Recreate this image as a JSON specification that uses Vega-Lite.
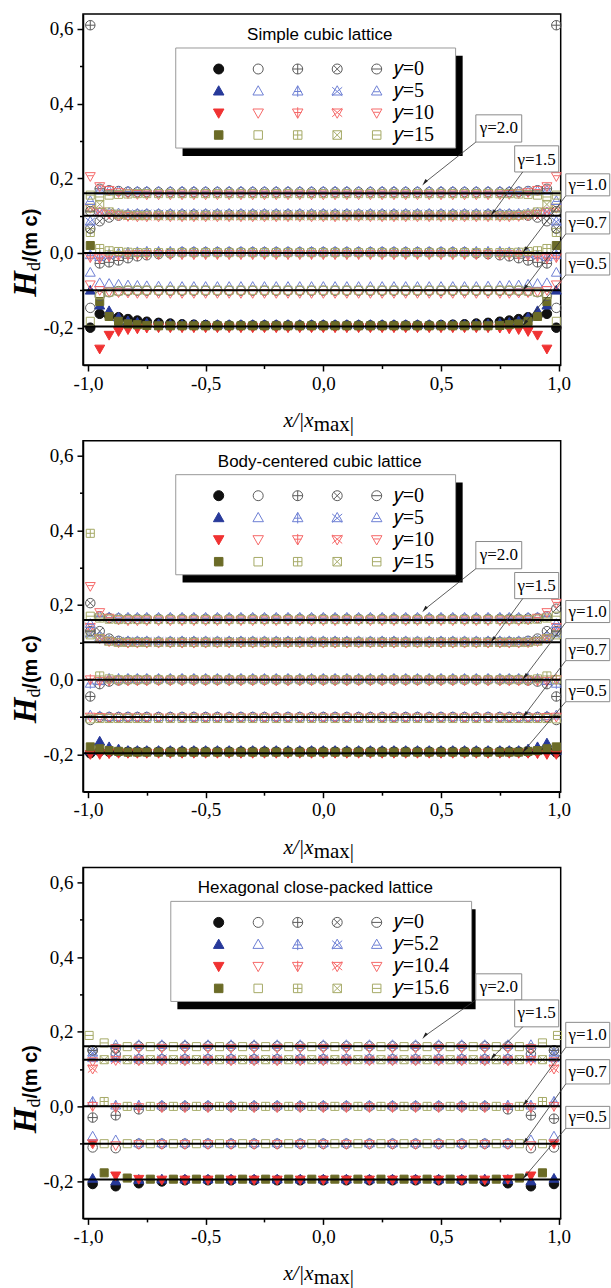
{
"$schema":"https://vega.github.io/schema/vega-lite/v6.json",
"padding":{"left":8,"top":13,"right":0,"bottom":0},
"background":"white",
"spacing":75.7,
"bounds":"flush",
"config":{"view":{"stroke":"black","strokeWidth":1.5},
 "axis":{"grid":false,"labelFont":"Liberation Serif","labelFontSize":19,"labelColor":"black","tickColor":"black","tickWidth":1.5,"domainColor":"black","domainWidth":1.5,"labelOverlap":false,"labelFlush":false},
 "legend":{"orient":"none","legendX":125.7,"legendY":45,"columns":5,"labelFont":"Liberation Serif","labelFontSize":20,"labelColor":"black","symbolSize":100,"symbolStrokeWidth":1,"columnPadding":12.5,"rowPadding":2,"labelOffset":7,"padding":0,"symbolLimit":0,"labelLimit":0},
 "range":{"category":["#111111","#27399a","#f03232","#6b6b27","#5a5a5a","#6d7fd4","#f56868","#a6aa66","#5a5a5a","#6d7fd4","#f56868","#a6aa66","#5a5a5a","#6d7fd4","#f56868","#a6aa66","#5a5a5a","#6d7fd4","#f56868","#a6aa66"],
  "symbol":["M-1,0A1,1,0,1,0,1,0A1,1,0,1,0,-1,0Z","M0,-1.05L1.05,0.8L-1.05,0.8Z","M0,1.05L1.05,-0.8L-1.05,-0.8Z","M-0.85,-0.85L0.85,-0.85L0.85,0.85L-0.85,0.85Z",
   "M-1,0A1,1,0,1,0,1,0A1,1,0,1,0,-1,0Z","M0,-1.05L1.05,0.8L-1.05,0.8Z","M0,1.05L1.05,-0.8L-1.05,-0.8Z","M-0.85,-0.85L0.85,-0.85L0.85,0.85L-0.85,0.85Z",
   "M-1,0A1,1,0,1,0,1,0A1,1,0,1,0,-1,0ZM-1,0L1,0M0,-1L0,1","M0,-1.05L1.05,0.8L-1.05,0.8ZM0,-1.05L0,1.15M-0.75,0.1L0.75,0.1","M0,1.05L1.05,-0.8L-1.05,-0.8ZM0,1.05L0,-1.15M-0.75,-0.1L0.75,-0.1","M-0.85,-0.85L0.85,-0.85L0.85,0.85L-0.85,0.85ZM-0.85,0L0.85,0M0,-0.85L0,0.85",
   "M-1,0A1,1,0,1,0,1,0A1,1,0,1,0,-1,0ZM-0.7,-0.7L0.7,0.7M-0.7,0.7L0.7,-0.7","M0,-1.05L1.05,0.8L-1.05,0.8ZM-1,-0.75L1,0.95M1,-0.75L-1,0.95","M0,1.05L1.05,-0.8L-1.05,-0.8ZM-1,0.75L1,-0.95M1,0.75L-1,-0.95","M-0.85,-0.85L0.85,-0.85L0.85,0.85L-0.85,0.85ZM-0.85,-0.85L0.85,0.85M-0.85,0.85L0.85,-0.85",
   "M-1,0A1,1,0,1,0,1,0A1,1,0,1,0,-1,0ZM-1,0L1,0","M0,-1.05L1.05,0.8L-1.05,0.8ZM-0.6,0.15L0.6,0.15","M0,1.05L1.05,-0.8L-1.05,-0.8ZM-0.6,-0.15L0.6,-0.15","M-0.85,-0.85L0.85,-0.85L0.85,0.85L-0.85,0.85ZM-0.85,0L0.85,0"]}
},
"resolve":{"scale":{"fill":"independent","stroke":"independent","shape":"independent"},"legend":{"fill":"independent","stroke":"independent","shape":"independent"}},
"datasets":{
"ann":[
{"t":"γ=2.0","bx":0.648,"bx2":0.843,"by":0.37,"by2":0.297,"tx":0.746,"ty":0.334,"ax":0.648,"ay":0.297,"ex":0.43,"ey":0.188},
{"t":"γ=1.5","bx":0.813,"bx2":1.0,"by":0.287,"by2":0.217,"tx":0.906,"ty":0.25,"ax":0.847,"ay":0.217,"ex":0.72,"ey":0.107},
{"t":"γ=1.0","bx":1.03,"bx2":1.217,"by":0.212,"by2":0.153,"tx":1.123,"ty":0.182,"ax":1.03,"ay":0.153,"ex":0.856,"ey":0.008},
{"t":"γ=0.7","bx":1.03,"bx2":1.217,"by":0.11,"by2":0.051,"tx":1.123,"ty":0.08,"ax":1.03,"ay":0.051,"ex":0.856,"ey":-0.094},
{"t":"γ=0.5","bx":1.03,"bx2":1.217,"by":0.0,"by2":-0.059,"tx":1.123,"ty":-0.029,"ax":1.03,"ay":-0.059,"ex":0.856,"ey":-0.188}
],
"ann_hcp":[
{"t":"γ=2.0","bx":0.648,"bx2":0.843,"by":0.355,"by2":0.285,"tx":0.746,"ty":0.32,"ax":0.648,"ay":0.285,"ex":0.43,"ey":0.188},
{"t":"γ=1.5","bx":0.813,"bx2":1.0,"by":0.285,"by2":0.213,"tx":0.906,"ty":0.249,"ax":0.847,"ay":0.213,"ex":0.72,"ey":0.132},
{"t":"γ=1.0","bx":1.03,"bx2":1.217,"by":0.225,"by2":0.158,"tx":1.123,"ty":0.192,"ax":1.03,"ay":0.158,"ex":0.856,"ey":0.008},
{"t":"γ=0.7","bx":1.03,"bx2":1.217,"by":0.125,"by2":0.06,"tx":1.123,"ty":0.093,"ax":1.03,"ay":0.06,"ex":0.856,"ey":-0.094},
{"t":"γ=0.5","bx":1.03,"bx2":1.217,"by":0.0,"by2":-0.059,"tx":1.123,"ty":-0.029,"ax":1.03,"ay":-0.059,"ex":0.856,"ey":-0.188}
],
"lines_sc":[{"h":0.16},{"h":0.1},{"h":0},{"h":-0.1},{"h":-0.197}],
"lines_bcc":[{"h":0.16},{"h":0.1},{"h":0},{"h":-0.1},{"h":-0.197}],
"lines_hcp":[{"h":0.161},{"h":0.125},{"h":0},{"h":-0.1},{"h":-0.196}],
"sc":[
{"x":-0.99,"a":-0.2,"b":-0.1,"d":0.02,"e":-0.147,"f":-0.052,"g":-0.085,"h":-0.183,"i":0.61,"j":-0.005,"k":-0.012,"l":0.055,"m":0.065,"n":0.085,"o":0.12,"p":0.12,"q":0.112,"r":0.14,"s":0.205,"t":0.155},
{"x":-0.95,"a":-0.163,"b":-0.14,"c":-0.257,"d":-0.13,"e":-0.115,"f":-0.08,"g":-0.1,"h":-0.112,"i":-0.028,"j":-0.01,"k":-0.015,"l":0.012,"m":0.085,"n":0.11,"o":0.11,"p":0.13,"q":0.172,"r":0.168,"s":0.178,"t":0.15},
{"x":-0.91,"a":-0.168,"b":-0.155,"c":-0.22,"d":-0.17,"e":-0.105,"f":-0.082,"g":-0.104,"h":-0.105,"i":-0.025,"j":-0.004,"k":-0.01,"l":0.006,"m":0.095,"n":0.108,"o":0.104,"p":0.11,"q":0.168,"r":0.167,"s":0.168,"t":0.155},
{"x":-0.87,"a":-0.172,"b":-0.172,"c":-0.21,"d":-0.183,"e":-0.102,"f":-0.084,"g":-0.106,"h":-0.102,"i":-0.02,"j":0,"k":-0.007,"l":0.004,"m":0.1,"n":0.107,"o":0.1,"p":0.104,"q":0.166,"r":0.166,"s":0.162,"t":0.157},
{"x":-0.83,"a":-0.177,"b":-0.182,"c":-0.205,"d":-0.19,"e":-0.101,"f":-0.086,"g":-0.107,"h":-0.1,"i":-0.014,"j":0.002,"k":-0.005,"l":0.002,"m":0.102,"n":0.106,"o":0.098,"p":0.101,"q":0.164,"r":0.166,"s":0.159,"t":0.158},
{"x":-0.79,"a":-0.181,"b":-0.186,"c":-0.203,"d":-0.192,"e":-0.101,"f":-0.087,"g":-0.108,"h":-0.1,"i":-0.009,"j":0.003,"k":-0.004,"l":0.001,"m":0.103,"n":0.106,"o":0.097,"p":0.1,"q":0.163,"r":0.166,"s":0.157,"t":0.159},
{"x":-0.75,"a":-0.184,"b":-0.188,"c":-0.201,"d":-0.194,"e":-0.101,"f":-0.088,"g":-0.108,"h":-0.1,"i":-0.006,"j":0.004,"k":-0.004,"l":0.001,"m":0.103,"n":0.106,"o":0.097,"p":0.1,"q":0.163,"r":0.166,"s":0.156,"t":0.159},
{"x":-0.7,"a":-0.187,"b":-0.19,"c":-0.2,"d":-0.195,"e":-0.101,"f":-0.089,"g":-0.108,"h":-0.1,"i":-0.003,"j":0.004,"k":-0.004,"l":0.001,"m":0.103,"n":0.106,"o":0.097,"p":0.1,"q":0.163,"r":0.166,"s":0.156,"t":0.159},
{"x":-0.65,"a":-0.189,"b":-0.191,"c":-0.2,"d":-0.195,"e":-0.101,"f":-0.09,"g":-0.108,"h":-0.1,"i":-0.001,"j":0.004,"k":-0.004,"l":0.001,"m":0.103,"n":0.106,"o":0.097,"p":0.1,"q":0.163,"r":0.166,"s":0.156,"t":0.159},
{"x":-0.6,"a":-0.191,"b":-0.192,"c":-0.2,"d":-0.195,"e":-0.101,"f":-0.09,"g":-0.108,"h":-0.1,"i":0.002,"j":0.004,"k":-0.004,"l":0.001,"m":0.103,"n":0.106,"o":0.097,"p":0.1,"q":0.163,"r":0.166,"s":0.156,"t":0.159},
{"x":-0.55,"a":-0.192,"b":-0.192,"c":-0.2,"d":-0.195,"e":-0.101,"f":-0.09,"g":-0.108,"h":-0.1,"i":0.002,"j":0.004,"k":-0.004,"l":0.001,"m":0.103,"n":0.106,"o":0.097,"p":0.1,"q":0.163,"r":0.166,"s":0.156,"t":0.159},
{"x":-0.5,"a":-0.193,"b":-0.192,"c":-0.2,"d":-0.195,"e":-0.101,"f":-0.09,"g":-0.108,"h":-0.1,"i":0.002,"j":0.004,"k":-0.004,"l":0.001,"m":0.103,"n":0.106,"o":0.097,"p":0.1,"q":0.163,"r":0.166,"s":0.156,"t":0.159},
{"x":-0.45,"a":-0.194,"b":-0.192,"c":-0.2,"d":-0.195,"e":-0.101,"f":-0.09,"g":-0.108,"h":-0.1,"i":0.002,"j":0.004,"k":-0.004,"l":0.001,"m":0.103,"n":0.106,"o":0.097,"p":0.1,"q":0.163,"r":0.166,"s":0.156,"t":0.159},
{"x":-0.4,"a":-0.194,"b":-0.192,"c":-0.2,"d":-0.195,"e":-0.101,"f":-0.09,"g":-0.108,"h":-0.1,"i":0.002,"j":0.004,"k":-0.004,"l":0.001,"m":0.103,"n":0.106,"o":0.097,"p":0.1,"q":0.163,"r":0.166,"s":0.156,"t":0.159},
{"x":-0.35,"a":-0.194,"b":-0.192,"c":-0.2,"d":-0.195,"e":-0.101,"f":-0.09,"g":-0.108,"h":-0.1,"i":0.002,"j":0.004,"k":-0.004,"l":0.001,"m":0.103,"n":0.106,"o":0.097,"p":0.1,"q":0.163,"r":0.166,"s":0.156,"t":0.159},
{"x":-0.3,"a":-0.194,"b":-0.192,"c":-0.2,"d":-0.195,"e":-0.101,"f":-0.09,"g":-0.108,"h":-0.1,"i":0.002,"j":0.004,"k":-0.004,"l":0.001,"m":0.103,"n":0.106,"o":0.097,"p":0.1,"q":0.163,"r":0.166,"s":0.156,"t":0.159},
{"x":-0.25,"a":-0.194,"b":-0.192,"c":-0.2,"d":-0.195,"e":-0.101,"f":-0.09,"g":-0.108,"h":-0.1,"i":0.002,"j":0.004,"k":-0.004,"l":0.001,"m":0.103,"n":0.106,"o":0.097,"p":0.1,"q":0.163,"r":0.166,"s":0.156,"t":0.159},
{"x":-0.2,"a":-0.194,"b":-0.192,"c":-0.2,"d":-0.195,"e":-0.101,"f":-0.09,"g":-0.108,"h":-0.1,"i":0.002,"j":0.004,"k":-0.004,"l":0.001,"m":0.103,"n":0.106,"o":0.097,"p":0.1,"q":0.163,"r":0.166,"s":0.156,"t":0.159},
{"x":-0.15,"a":-0.194,"b":-0.192,"c":-0.2,"d":-0.195,"e":-0.101,"f":-0.09,"g":-0.108,"h":-0.1,"i":0.002,"j":0.004,"k":-0.004,"l":0.001,"m":0.103,"n":0.106,"o":0.097,"p":0.1,"q":0.163,"r":0.166,"s":0.156,"t":0.159},
{"x":-0.1,"a":-0.194,"b":-0.192,"c":-0.2,"d":-0.195,"e":-0.101,"f":-0.09,"g":-0.108,"h":-0.1,"i":0.002,"j":0.004,"k":-0.004,"l":0.001,"m":0.103,"n":0.106,"o":0.097,"p":0.1,"q":0.163,"r":0.166,"s":0.156,"t":0.159},
{"x":-0.05,"a":-0.194,"b":-0.192,"c":-0.2,"d":-0.195,"e":-0.101,"f":-0.09,"g":-0.108,"h":-0.1,"i":0.002,"j":0.004,"k":-0.004,"l":0.001,"m":0.103,"n":0.106,"o":0.097,"p":0.1,"q":0.163,"r":0.166,"s":0.156,"t":0.159},
{"x":0,"a":-0.194,"b":-0.192,"c":-0.2,"d":-0.195,"e":-0.101,"f":-0.09,"g":-0.108,"h":-0.1,"i":0.002,"j":0.004,"k":-0.004,"l":0.001,"m":0.103,"n":0.106,"o":0.097,"p":0.1,"q":0.163,"r":0.166,"s":0.156,"t":0.159},
{"x":0.05,"a":-0.194,"b":-0.192,"c":-0.2,"d":-0.195,"e":-0.101,"f":-0.09,"g":-0.108,"h":-0.1,"i":0.002,"j":0.004,"k":-0.004,"l":0.001,"m":0.103,"n":0.106,"o":0.097,"p":0.1,"q":0.163,"r":0.166,"s":0.156,"t":0.159},
{"x":0.1,"a":-0.194,"b":-0.192,"c":-0.2,"d":-0.195,"e":-0.101,"f":-0.09,"g":-0.108,"h":-0.1,"i":0.002,"j":0.004,"k":-0.004,"l":0.001,"m":0.103,"n":0.106,"o":0.097,"p":0.1,"q":0.163,"r":0.166,"s":0.156,"t":0.159},
{"x":0.15,"a":-0.194,"b":-0.192,"c":-0.2,"d":-0.195,"e":-0.101,"f":-0.09,"g":-0.108,"h":-0.1,"i":0.002,"j":0.004,"k":-0.004,"l":0.001,"m":0.103,"n":0.106,"o":0.097,"p":0.1,"q":0.163,"r":0.166,"s":0.156,"t":0.159},
{"x":0.2,"a":-0.194,"b":-0.192,"c":-0.2,"d":-0.195,"e":-0.101,"f":-0.09,"g":-0.108,"h":-0.1,"i":0.002,"j":0.004,"k":-0.004,"l":0.001,"m":0.103,"n":0.106,"o":0.097,"p":0.1,"q":0.163,"r":0.166,"s":0.156,"t":0.159},
{"x":0.25,"a":-0.194,"b":-0.192,"c":-0.2,"d":-0.195,"e":-0.101,"f":-0.09,"g":-0.108,"h":-0.1,"i":0.002,"j":0.004,"k":-0.004,"l":0.001,"m":0.103,"n":0.106,"o":0.097,"p":0.1,"q":0.163,"r":0.166,"s":0.156,"t":0.159},
{"x":0.3,"a":-0.194,"b":-0.192,"c":-0.2,"d":-0.195,"e":-0.101,"f":-0.09,"g":-0.108,"h":-0.1,"i":0.002,"j":0.004,"k":-0.004,"l":0.001,"m":0.103,"n":0.106,"o":0.097,"p":0.1,"q":0.163,"r":0.166,"s":0.156,"t":0.159},
{"x":0.35,"a":-0.194,"b":-0.192,"c":-0.2,"d":-0.195,"e":-0.101,"f":-0.09,"g":-0.108,"h":-0.1,"i":0.002,"j":0.004,"k":-0.004,"l":0.001,"m":0.103,"n":0.106,"o":0.097,"p":0.1,"q":0.163,"r":0.166,"s":0.156,"t":0.159},
{"x":0.4,"a":-0.194,"b":-0.192,"c":-0.2,"d":-0.195,"e":-0.101,"f":-0.09,"g":-0.108,"h":-0.1,"i":0.002,"j":0.004,"k":-0.004,"l":0.001,"m":0.103,"n":0.106,"o":0.097,"p":0.1,"q":0.163,"r":0.166,"s":0.156,"t":0.159},
{"x":0.45,"a":-0.194,"b":-0.192,"c":-0.2,"d":-0.195,"e":-0.101,"f":-0.09,"g":-0.108,"h":-0.1,"i":0.002,"j":0.004,"k":-0.004,"l":0.001,"m":0.103,"n":0.106,"o":0.097,"p":0.1,"q":0.163,"r":0.166,"s":0.156,"t":0.159},
{"x":0.5,"a":-0.193,"b":-0.192,"c":-0.2,"d":-0.195,"e":-0.101,"f":-0.09,"g":-0.108,"h":-0.1,"i":0.002,"j":0.004,"k":-0.004,"l":0.001,"m":0.103,"n":0.106,"o":0.097,"p":0.1,"q":0.163,"r":0.166,"s":0.156,"t":0.159},
{"x":0.55,"a":-0.192,"b":-0.192,"c":-0.2,"d":-0.195,"e":-0.101,"f":-0.09,"g":-0.108,"h":-0.1,"i":0.002,"j":0.004,"k":-0.004,"l":0.001,"m":0.103,"n":0.106,"o":0.097,"p":0.1,"q":0.163,"r":0.166,"s":0.156,"t":0.159},
{"x":0.6,"a":-0.191,"b":-0.192,"c":-0.2,"d":-0.195,"e":-0.101,"f":-0.09,"g":-0.108,"h":-0.1,"i":0.002,"j":0.004,"k":-0.004,"l":0.001,"m":0.103,"n":0.106,"o":0.097,"p":0.1,"q":0.163,"r":0.166,"s":0.156,"t":0.159},
{"x":0.65,"a":-0.189,"b":-0.191,"c":-0.2,"d":-0.195,"e":-0.101,"f":-0.09,"g":-0.108,"h":-0.1,"i":-0.001,"j":0.004,"k":-0.004,"l":0.001,"m":0.103,"n":0.106,"o":0.097,"p":0.1,"q":0.163,"r":0.166,"s":0.156,"t":0.159},
{"x":0.7,"a":-0.187,"b":-0.19,"c":-0.2,"d":-0.195,"e":-0.101,"f":-0.089,"g":-0.108,"h":-0.1,"i":-0.003,"j":0.004,"k":-0.004,"l":0.001,"m":0.103,"n":0.106,"o":0.097,"p":0.1,"q":0.163,"r":0.166,"s":0.156,"t":0.159},
{"x":0.75,"a":-0.184,"b":-0.188,"c":-0.201,"d":-0.194,"e":-0.101,"f":-0.088,"g":-0.108,"h":-0.1,"i":-0.006,"j":0.004,"k":-0.004,"l":0.001,"m":0.103,"n":0.106,"o":0.097,"p":0.1,"q":0.163,"r":0.166,"s":0.156,"t":0.159},
{"x":0.79,"a":-0.181,"b":-0.186,"c":-0.203,"d":-0.192,"e":-0.101,"f":-0.087,"g":-0.108,"h":-0.1,"i":-0.009,"j":0.003,"k":-0.004,"l":0.001,"m":0.103,"n":0.106,"o":0.097,"p":0.1,"q":0.163,"r":0.166,"s":0.157,"t":0.159},
{"x":0.83,"a":-0.177,"b":-0.182,"c":-0.205,"d":-0.19,"e":-0.101,"f":-0.086,"g":-0.107,"h":-0.1,"i":-0.014,"j":0.002,"k":-0.005,"l":0.002,"m":0.102,"n":0.106,"o":0.098,"p":0.101,"q":0.164,"r":0.166,"s":0.159,"t":0.158},
{"x":0.87,"a":-0.172,"b":-0.172,"c":-0.21,"d":-0.183,"e":-0.102,"f":-0.084,"g":-0.106,"h":-0.102,"i":-0.02,"j":0,"k":-0.007,"l":0.004,"m":0.1,"n":0.107,"o":0.1,"p":0.104,"q":0.166,"r":0.166,"s":0.162,"t":0.157},
{"x":0.91,"a":-0.168,"b":-0.155,"c":-0.22,"d":-0.17,"e":-0.105,"f":-0.082,"g":-0.104,"h":-0.105,"i":-0.025,"j":-0.004,"k":-0.01,"l":0.006,"m":0.095,"n":0.108,"o":0.104,"p":0.11,"q":0.168,"r":0.167,"s":0.168,"t":0.155},
{"x":0.95,"a":-0.163,"b":-0.14,"c":-0.257,"d":-0.13,"e":-0.115,"f":-0.08,"g":-0.1,"h":-0.112,"i":-0.028,"j":-0.01,"k":-0.015,"l":0.012,"m":0.085,"n":0.11,"o":0.11,"p":0.13,"q":0.172,"r":0.168,"s":0.178,"t":0.15},
{"x":0.99,"a":-0.2,"b":-0.1,"d":0.02,"e":-0.147,"f":-0.052,"g":-0.085,"h":-0.183,"i":0.61,"j":-0.005,"k":-0.012,"l":0.055,"m":0.065,"n":0.085,"o":0.12,"p":0.12,"q":0.112,"r":0.14,"s":0.205,"t":0.155}
],
"bcc":[
{"x":-0.99,"a":-0.197,"b":-0.19,"c":-0.2,"d":-0.18,"e":-0.108,"f":-0.095,"g":-0.1,"h":-0.105,"i":-0.045,"j":-0.01,"k":0,"l":0.392,"m":0.205,"n":0.125,"o":0.14,"p":0.12,"q":0.13,"r":0.15,"s":0.25,"t":0.17},
{"x":-0.95,"a":-0.192,"b":-0.165,"c":-0.2,"d":-0.185,"e":-0.1,"f":-0.097,"g":-0.101,"h":-0.104,"i":-0.012,"j":-0.003,"k":-0.004,"l":0.01,"m":0.13,"n":0.115,"o":0.11,"p":0.11,"q":0.17,"r":0.17,"s":0.18,"t":0.165},
{"x":-0.91,"a":-0.193,"b":-0.18,"c":-0.198,"d":-0.19,"e":-0.1,"f":-0.099,"g":-0.102,"h":-0.104,"i":-0.005,"j":0.003,"k":-0.003,"l":0.002,"m":0.11,"n":0.106,"o":0.102,"p":0.103,"q":0.165,"r":0.168,"s":0.165,"t":0.162},
{"x":-0.87,"a":-0.193,"b":-0.186,"c":-0.197,"d":-0.192,"e":-0.1,"f":-0.099,"g":-0.102,"h":-0.104,"i":-0.002,"j":0.003,"k":-0.003,"l":0,"m":0.104,"n":0.104,"o":0.099,"p":0.1,"q":0.164,"r":0.167,"s":0.16,"t":0.161},
{"x":-0.83,"a":-0.193,"b":-0.19,"c":-0.197,"d":-0.194,"e":-0.1,"f":-0.099,"g":-0.102,"h":-0.104,"i":0,"j":0.003,"k":-0.003,"l":0,"m":0.101,"n":0.104,"o":0.098,"p":0.1,"q":0.163,"r":0.167,"s":0.158,"t":0.161},
{"x":-0.79,"a":-0.193,"b":-0.19,"c":-0.197,"d":-0.194,"e":-0.1,"f":-0.099,"g":-0.102,"h":-0.104,"i":0,"j":0.003,"k":-0.003,"l":0,"m":0.101,"n":0.104,"o":0.098,"p":0.1,"q":0.163,"r":0.167,"s":0.158,"t":0.161},
{"x":-0.75,"a":-0.193,"b":-0.19,"c":-0.197,"d":-0.194,"e":-0.1,"f":-0.099,"g":-0.102,"h":-0.104,"i":0,"j":0.003,"k":-0.003,"l":0,"m":0.101,"n":0.104,"o":0.098,"p":0.1,"q":0.163,"r":0.167,"s":0.158,"t":0.161},
{"x":-0.7,"a":-0.193,"b":-0.19,"c":-0.197,"d":-0.194,"e":-0.1,"f":-0.099,"g":-0.102,"h":-0.104,"i":0,"j":0.003,"k":-0.003,"l":0,"m":0.101,"n":0.104,"o":0.098,"p":0.1,"q":0.163,"r":0.167,"s":0.158,"t":0.161},
{"x":-0.65,"a":-0.193,"b":-0.19,"c":-0.197,"d":-0.194,"e":-0.1,"f":-0.099,"g":-0.102,"h":-0.104,"i":0,"j":0.003,"k":-0.003,"l":0,"m":0.101,"n":0.104,"o":0.098,"p":0.1,"q":0.163,"r":0.167,"s":0.158,"t":0.161},
{"x":-0.6,"a":-0.193,"b":-0.19,"c":-0.197,"d":-0.194,"e":-0.1,"f":-0.099,"g":-0.102,"h":-0.104,"i":0,"j":0.003,"k":-0.003,"l":0,"m":0.101,"n":0.104,"o":0.098,"p":0.1,"q":0.163,"r":0.167,"s":0.158,"t":0.161},
{"x":-0.55,"a":-0.193,"b":-0.19,"c":-0.197,"d":-0.194,"e":-0.1,"f":-0.099,"g":-0.102,"h":-0.104,"i":0,"j":0.003,"k":-0.003,"l":0,"m":0.101,"n":0.104,"o":0.098,"p":0.1,"q":0.163,"r":0.167,"s":0.158,"t":0.161},
{"x":-0.5,"a":-0.193,"b":-0.19,"c":-0.197,"d":-0.194,"e":-0.1,"f":-0.099,"g":-0.102,"h":-0.104,"i":0,"j":0.003,"k":-0.003,"l":0,"m":0.101,"n":0.104,"o":0.098,"p":0.1,"q":0.163,"r":0.167,"s":0.158,"t":0.161},
{"x":-0.45,"a":-0.193,"b":-0.19,"c":-0.197,"d":-0.194,"e":-0.1,"f":-0.099,"g":-0.102,"h":-0.104,"i":0,"j":0.003,"k":-0.003,"l":0,"m":0.101,"n":0.104,"o":0.098,"p":0.1,"q":0.163,"r":0.167,"s":0.158,"t":0.161},
{"x":-0.4,"a":-0.193,"b":-0.19,"c":-0.197,"d":-0.194,"e":-0.1,"f":-0.099,"g":-0.102,"h":-0.104,"i":0,"j":0.003,"k":-0.003,"l":0,"m":0.101,"n":0.104,"o":0.098,"p":0.1,"q":0.163,"r":0.167,"s":0.158,"t":0.161},
{"x":-0.35,"a":-0.193,"b":-0.19,"c":-0.197,"d":-0.194,"e":-0.1,"f":-0.099,"g":-0.102,"h":-0.104,"i":0,"j":0.003,"k":-0.003,"l":0,"m":0.101,"n":0.104,"o":0.098,"p":0.1,"q":0.163,"r":0.167,"s":0.158,"t":0.161},
{"x":-0.3,"a":-0.193,"b":-0.19,"c":-0.197,"d":-0.194,"e":-0.1,"f":-0.099,"g":-0.102,"h":-0.104,"i":0,"j":0.003,"k":-0.003,"l":0,"m":0.101,"n":0.104,"o":0.098,"p":0.1,"q":0.163,"r":0.167,"s":0.158,"t":0.161},
{"x":-0.25,"a":-0.193,"b":-0.19,"c":-0.197,"d":-0.194,"e":-0.1,"f":-0.099,"g":-0.102,"h":-0.104,"i":0,"j":0.003,"k":-0.003,"l":0,"m":0.101,"n":0.104,"o":0.098,"p":0.1,"q":0.163,"r":0.167,"s":0.158,"t":0.161},
{"x":-0.2,"a":-0.193,"b":-0.19,"c":-0.197,"d":-0.194,"e":-0.1,"f":-0.099,"g":-0.102,"h":-0.104,"i":0,"j":0.003,"k":-0.003,"l":0,"m":0.101,"n":0.104,"o":0.098,"p":0.1,"q":0.163,"r":0.167,"s":0.158,"t":0.161},
{"x":-0.15,"a":-0.193,"b":-0.19,"c":-0.197,"d":-0.194,"e":-0.1,"f":-0.099,"g":-0.102,"h":-0.104,"i":0,"j":0.003,"k":-0.003,"l":0,"m":0.101,"n":0.104,"o":0.098,"p":0.1,"q":0.163,"r":0.167,"s":0.158,"t":0.161},
{"x":-0.1,"a":-0.193,"b":-0.19,"c":-0.197,"d":-0.194,"e":-0.1,"f":-0.099,"g":-0.102,"h":-0.104,"i":0,"j":0.003,"k":-0.003,"l":0,"m":0.101,"n":0.104,"o":0.098,"p":0.1,"q":0.163,"r":0.167,"s":0.158,"t":0.161},
{"x":-0.05,"a":-0.193,"b":-0.19,"c":-0.197,"d":-0.194,"e":-0.1,"f":-0.099,"g":-0.102,"h":-0.104,"i":0,"j":0.003,"k":-0.003,"l":0,"m":0.101,"n":0.104,"o":0.098,"p":0.1,"q":0.163,"r":0.167,"s":0.158,"t":0.161},
{"x":0,"a":-0.193,"b":-0.19,"c":-0.197,"d":-0.194,"e":-0.1,"f":-0.099,"g":-0.102,"h":-0.104,"i":0,"j":0.003,"k":-0.003,"l":0,"m":0.101,"n":0.104,"o":0.098,"p":0.1,"q":0.163,"r":0.167,"s":0.158,"t":0.161},
{"x":0.05,"a":-0.193,"b":-0.19,"c":-0.197,"d":-0.194,"e":-0.1,"f":-0.099,"g":-0.102,"h":-0.104,"i":0,"j":0.003,"k":-0.003,"l":0,"m":0.101,"n":0.104,"o":0.098,"p":0.1,"q":0.163,"r":0.167,"s":0.158,"t":0.161},
{"x":0.1,"a":-0.193,"b":-0.19,"c":-0.197,"d":-0.194,"e":-0.1,"f":-0.099,"g":-0.102,"h":-0.104,"i":0,"j":0.003,"k":-0.003,"l":0,"m":0.101,"n":0.104,"o":0.098,"p":0.1,"q":0.163,"r":0.167,"s":0.158,"t":0.161},
{"x":0.15,"a":-0.193,"b":-0.19,"c":-0.197,"d":-0.194,"e":-0.1,"f":-0.099,"g":-0.102,"h":-0.104,"i":0,"j":0.003,"k":-0.003,"l":0,"m":0.101,"n":0.104,"o":0.098,"p":0.1,"q":0.163,"r":0.167,"s":0.158,"t":0.161},
{"x":0.2,"a":-0.193,"b":-0.19,"c":-0.197,"d":-0.194,"e":-0.1,"f":-0.099,"g":-0.102,"h":-0.104,"i":0,"j":0.003,"k":-0.003,"l":0,"m":0.101,"n":0.104,"o":0.098,"p":0.1,"q":0.163,"r":0.167,"s":0.158,"t":0.161},
{"x":0.25,"a":-0.193,"b":-0.19,"c":-0.197,"d":-0.194,"e":-0.1,"f":-0.099,"g":-0.102,"h":-0.104,"i":0,"j":0.003,"k":-0.003,"l":0,"m":0.101,"n":0.104,"o":0.098,"p":0.1,"q":0.163,"r":0.167,"s":0.158,"t":0.161},
{"x":0.3,"a":-0.193,"b":-0.19,"c":-0.197,"d":-0.194,"e":-0.1,"f":-0.099,"g":-0.102,"h":-0.104,"i":0,"j":0.003,"k":-0.003,"l":0,"m":0.101,"n":0.104,"o":0.098,"p":0.1,"q":0.163,"r":0.167,"s":0.158,"t":0.161},
{"x":0.35,"a":-0.193,"b":-0.19,"c":-0.197,"d":-0.194,"e":-0.1,"f":-0.099,"g":-0.102,"h":-0.104,"i":0,"j":0.003,"k":-0.003,"l":0,"m":0.101,"n":0.104,"o":0.098,"p":0.1,"q":0.163,"r":0.167,"s":0.158,"t":0.161},
{"x":0.4,"a":-0.193,"b":-0.19,"c":-0.197,"d":-0.194,"e":-0.1,"f":-0.099,"g":-0.102,"h":-0.104,"i":0,"j":0.003,"k":-0.003,"l":0,"m":0.101,"n":0.104,"o":0.098,"p":0.1,"q":0.163,"r":0.167,"s":0.158,"t":0.161},
{"x":0.45,"a":-0.193,"b":-0.19,"c":-0.197,"d":-0.194,"e":-0.1,"f":-0.099,"g":-0.102,"h":-0.104,"i":0,"j":0.003,"k":-0.003,"l":0,"m":0.101,"n":0.104,"o":0.098,"p":0.1,"q":0.163,"r":0.167,"s":0.158,"t":0.161},
{"x":0.5,"a":-0.193,"b":-0.19,"c":-0.197,"d":-0.194,"e":-0.1,"f":-0.099,"g":-0.102,"h":-0.104,"i":0,"j":0.003,"k":-0.003,"l":0,"m":0.101,"n":0.104,"o":0.098,"p":0.1,"q":0.163,"r":0.167,"s":0.158,"t":0.161},
{"x":0.55,"a":-0.193,"b":-0.19,"c":-0.197,"d":-0.194,"e":-0.1,"f":-0.099,"g":-0.102,"h":-0.104,"i":0,"j":0.003,"k":-0.003,"l":0,"m":0.101,"n":0.104,"o":0.098,"p":0.1,"q":0.163,"r":0.167,"s":0.158,"t":0.161},
{"x":0.6,"a":-0.193,"b":-0.19,"c":-0.197,"d":-0.194,"e":-0.1,"f":-0.099,"g":-0.102,"h":-0.104,"i":0,"j":0.003,"k":-0.003,"l":0,"m":0.101,"n":0.104,"o":0.098,"p":0.1,"q":0.163,"r":0.167,"s":0.158,"t":0.161},
{"x":0.65,"a":-0.193,"b":-0.19,"c":-0.197,"d":-0.194,"e":-0.1,"f":-0.099,"g":-0.102,"h":-0.104,"i":0,"j":0.003,"k":-0.003,"l":0,"m":0.101,"n":0.104,"o":0.098,"p":0.1,"q":0.163,"r":0.167,"s":0.158,"t":0.161},
{"x":0.7,"a":-0.193,"b":-0.19,"c":-0.197,"d":-0.194,"e":-0.1,"f":-0.099,"g":-0.102,"h":-0.104,"i":0,"j":0.003,"k":-0.003,"l":0,"m":0.101,"n":0.104,"o":0.098,"p":0.1,"q":0.163,"r":0.167,"s":0.158,"t":0.161},
{"x":0.75,"a":-0.193,"b":-0.19,"c":-0.197,"d":-0.194,"e":-0.1,"f":-0.099,"g":-0.102,"h":-0.104,"i":0,"j":0.003,"k":-0.003,"l":0,"m":0.101,"n":0.104,"o":0.098,"p":0.1,"q":0.163,"r":0.167,"s":0.158,"t":0.161},
{"x":0.79,"a":-0.193,"b":-0.19,"c":-0.197,"d":-0.194,"e":-0.1,"f":-0.099,"g":-0.102,"h":-0.104,"i":0,"j":0.003,"k":-0.003,"l":0,"m":0.101,"n":0.104,"o":0.098,"p":0.1,"q":0.163,"r":0.167,"s":0.158,"t":0.161},
{"x":0.83,"a":-0.193,"b":-0.19,"c":-0.197,"d":-0.194,"e":-0.1,"f":-0.099,"g":-0.102,"h":-0.104,"i":0,"j":0.003,"k":-0.003,"l":0,"m":0.101,"n":0.104,"o":0.098,"p":0.1,"q":0.163,"r":0.167,"s":0.158,"t":0.161},
{"x":0.87,"a":-0.193,"b":-0.186,"c":-0.197,"d":-0.192,"e":-0.1,"f":-0.099,"g":-0.102,"h":-0.104,"i":-0.002,"j":0.003,"k":-0.003,"l":0,"m":0.104,"n":0.104,"o":0.099,"p":0.1,"q":0.164,"r":0.167,"s":0.16,"t":0.161},
{"x":0.91,"a":-0.19,"b":-0.18,"c":-0.198,"d":-0.19,"e":-0.1,"f":-0.099,"g":-0.102,"h":-0.104,"i":-0.005,"j":0.003,"k":-0.003,"l":0.002,"m":0.11,"n":0.106,"o":0.102,"p":0.103,"q":0.165,"r":0.168,"s":0.165,"t":0.162},
{"x":0.95,"a":-0.188,"b":-0.17,"c":-0.2,"d":-0.185,"e":-0.1,"f":-0.097,"g":-0.101,"h":-0.104,"i":-0.012,"j":-0.003,"k":-0.004,"l":0.01,"m":0.13,"n":0.115,"o":0.11,"p":0.11,"q":0.17,"r":0.17,"s":0.18,"t":0.165},
{"x":0.99,"a":-0.195,"b":-0.19,"c":-0.2,"d":-0.18,"e":-0.108,"f":-0.095,"g":-0.1,"h":-0.105,"i":-0.045,"j":-0.01,"k":0,"l":0.0,"m":0.19,"n":0.125,"o":0.14,"p":0.12,"q":0.13,"r":0.15,"s":0.205,"t":0.17}
],
"hcp":[
{"x":-0.995,"t":0.19},
{"x":-0.98,"a":-0.208,"b":-0.193,"c":-0.1,"e":-0.11,"f":-0.08,"g":-0.1,"i":-0.03,"j":0.013,"k":0,"m":0.15,"n":0.145,"o":0.1,"q":0.15,"r":0.13,"s":0.12},
{"x":-0.931,"d":-0.178,"h":-0.1,"l":0.013,"p":0.125,"t":0.17},
{"x":-0.882,"a":-0.214,"b":-0.2,"c":-0.186,"e":-0.112,"f":-0.09,"g":-0.105,"i":-0.024,"j":0.003,"k":-0.003,"m":0.14,"n":0.13,"o":0.123,"q":0.155,"r":0.165,"s":0.155},
{"x":-0.833,"d":-0.192,"h":-0.1,"l":0,"p":0.125,"t":0.16},
{"x":-0.784,"a":-0.206,"b":-0.196,"c":-0.195,"e":-0.1,"f":-0.098,"g":-0.102,"i":-0.008,"j":0.003,"k":-0.003,"m":0.126,"n":0.129,"o":0.122,"q":0.161,"r":0.165,"s":0.156},
{"x":-0.735,"d":-0.195,"h":-0.1,"l":0,"p":0.125,"t":0.16},
{"x":-0.686,"a":-0.201,"b":-0.195,"c":-0.197,"e":-0.1,"f":-0.098,"g":-0.102,"i":0,"j":0.003,"k":-0.003,"m":0.126,"n":0.129,"o":0.122,"q":0.161,"r":0.165,"s":0.156},
{"x":-0.637,"d":-0.195,"h":-0.1,"l":0,"p":0.125,"t":0.16},
{"x":-0.588,"a":-0.198,"b":-0.195,"c":-0.197,"e":-0.1,"f":-0.098,"g":-0.102,"i":0,"j":0.003,"k":-0.003,"m":0.126,"n":0.129,"o":0.122,"q":0.161,"r":0.165,"s":0.156},
{"x":-0.539,"d":-0.195,"h":-0.1,"l":0,"p":0.125,"t":0.16},
{"x":-0.49,"a":-0.198,"b":-0.195,"c":-0.197,"e":-0.1,"f":-0.098,"g":-0.102,"i":0,"j":0.003,"k":-0.003,"m":0.126,"n":0.129,"o":0.122,"q":0.161,"r":0.165,"s":0.156},
{"x":-0.441,"d":-0.195,"h":-0.1,"l":0,"p":0.125,"t":0.16},
{"x":-0.392,"a":-0.198,"b":-0.195,"c":-0.197,"e":-0.1,"f":-0.098,"g":-0.102,"i":0,"j":0.003,"k":-0.003,"m":0.126,"n":0.129,"o":0.122,"q":0.161,"r":0.165,"s":0.156},
{"x":-0.343,"d":-0.195,"h":-0.1,"l":0,"p":0.125,"t":0.16},
{"x":-0.294,"a":-0.198,"b":-0.195,"c":-0.197,"e":-0.1,"f":-0.098,"g":-0.102,"i":0,"j":0.003,"k":-0.003,"m":0.126,"n":0.129,"o":0.122,"q":0.161,"r":0.165,"s":0.156},
{"x":-0.245,"d":-0.195,"h":-0.1,"l":0,"p":0.125,"t":0.16},
{"x":-0.196,"a":-0.198,"b":-0.195,"c":-0.197,"e":-0.1,"f":-0.098,"g":-0.102,"i":0,"j":0.003,"k":-0.003,"m":0.126,"n":0.129,"o":0.122,"q":0.161,"r":0.165,"s":0.156},
{"x":-0.147,"d":-0.195,"h":-0.1,"l":0,"p":0.125,"t":0.16},
{"x":-0.098,"a":-0.198,"b":-0.195,"c":-0.197,"e":-0.1,"f":-0.098,"g":-0.102,"i":0,"j":0.003,"k":-0.003,"m":0.126,"n":0.129,"o":0.122,"q":0.161,"r":0.165,"s":0.156},
{"x":-0.049,"d":-0.195,"h":-0.1,"l":0,"p":0.125,"t":0.16},
{"x":0,"a":-0.198,"b":-0.195,"c":-0.197,"e":-0.1,"f":-0.098,"g":-0.102,"i":0,"j":0.003,"k":-0.003,"m":0.126,"n":0.129,"o":0.122,"q":0.161,"r":0.165,"s":0.156},
{"x":0.049,"d":-0.195,"h":-0.1,"l":0,"p":0.125,"t":0.16},
{"x":0.098,"a":-0.198,"b":-0.195,"c":-0.197,"e":-0.1,"f":-0.098,"g":-0.102,"i":0,"j":0.003,"k":-0.003,"m":0.126,"n":0.129,"o":0.122,"q":0.161,"r":0.165,"s":0.156},
{"x":0.147,"d":-0.195,"h":-0.1,"l":0,"p":0.125,"t":0.16},
{"x":0.196,"a":-0.198,"b":-0.195,"c":-0.197,"e":-0.1,"f":-0.098,"g":-0.102,"i":0,"j":0.003,"k":-0.003,"m":0.126,"n":0.129,"o":0.122,"q":0.161,"r":0.165,"s":0.156},
{"x":0.245,"d":-0.195,"h":-0.1,"l":0,"p":0.125,"t":0.16},
{"x":0.294,"a":-0.198,"b":-0.195,"c":-0.197,"e":-0.1,"f":-0.098,"g":-0.102,"i":0,"j":0.003,"k":-0.003,"m":0.126,"n":0.129,"o":0.122,"q":0.161,"r":0.165,"s":0.156},
{"x":0.343,"d":-0.195,"h":-0.1,"l":0,"p":0.125,"t":0.16},
{"x":0.392,"a":-0.198,"b":-0.195,"c":-0.197,"e":-0.1,"f":-0.098,"g":-0.102,"i":0,"j":0.003,"k":-0.003,"m":0.126,"n":0.129,"o":0.122,"q":0.161,"r":0.165,"s":0.156},
{"x":0.441,"d":-0.195,"h":-0.1,"l":0,"p":0.125,"t":0.16},
{"x":0.49,"a":-0.198,"b":-0.195,"c":-0.197,"e":-0.1,"f":-0.098,"g":-0.102,"i":0,"j":0.003,"k":-0.003,"m":0.126,"n":0.129,"o":0.122,"q":0.161,"r":0.165,"s":0.156},
{"x":0.539,"d":-0.195,"h":-0.1,"l":0,"p":0.125,"t":0.16},
{"x":0.588,"a":-0.198,"b":-0.195,"c":-0.197,"e":-0.1,"f":-0.098,"g":-0.102,"i":0,"j":0.003,"k":-0.003,"m":0.126,"n":0.129,"o":0.122,"q":0.161,"r":0.165,"s":0.156},
{"x":0.637,"d":-0.195,"h":-0.1,"l":0,"p":0.125,"t":0.16},
{"x":0.686,"a":-0.201,"b":-0.195,"c":-0.197,"e":-0.1,"f":-0.098,"g":-0.102,"i":0,"j":0.003,"k":-0.003,"m":0.126,"n":0.129,"o":0.122,"q":0.161,"r":0.165,"s":0.156},
{"x":0.735,"d":-0.195,"h":-0.1,"l":0,"p":0.125,"t":0.16},
{"x":0.784,"a":-0.206,"b":-0.196,"c":-0.195,"e":-0.1,"f":-0.098,"g":-0.102,"i":-0.008,"j":0.003,"k":-0.003,"m":0.126,"n":0.129,"o":0.122,"q":0.161,"r":0.165,"s":0.156},
{"x":0.833,"d":-0.192,"h":-0.1,"l":0,"p":0.125,"t":0.16},
{"x":0.882,"a":-0.214,"b":-0.2,"c":-0.186,"e":-0.112,"f":-0.09,"g":-0.105,"i":-0.024,"j":0.003,"k":-0.003,"m":0.14,"n":0.13,"o":0.123,"q":0.155,"r":0.165,"s":0.155},
{"x":0.931,"d":-0.178,"h":-0.1,"l":0.013,"p":0.125,"t":0.17},
{"x":0.98,"a":-0.208,"b":-0.193,"c":-0.1,"e":-0.11,"f":-0.08,"g":-0.1,"i":-0.033,"j":0.013,"k":0,"m":0.15,"n":0.145,"o":0.1,"q":0.15,"r":0.13,"s":0.12},
{"x":0.995,"t":0.19}
]
},
"vconcat":[
{"width":477.7,"height":351,
 "layer":[
  {"data":{"name":"sc"},"transform":[{"fold":["a","b","c","d","e","f","g","h","i","j","k","l","m","n","o","p","q","r","s","t"],"as":["key","val"]}],
   "mark":{"type":"point","opacity":1,"strokeWidth":1,"size":90},
   "encoding":{
    "x":{"field":"x","type":"quantitative","scale":{"domain":[-1.021,1.0085],"nice":false,"zero":false},"axis":{"values":[-1,-0.75,-0.5,-0.25,0,0.25,0.5,0.75,1],"title":null,"labelFont":"Liberation Serif","labelFontSize":19,"labelExpr":"round(datum.value*4)%2==0 ? replace(replace(format(datum.value,'.1f'),'.',','),'\u2212','-') : ''","tickSize":{"condition":{"test":"round(datum.value*4)%2!=0","value":3.5},"value":6},"labelPadding":3}},
    "y":{"field":"val","type":"quantitative","scale":{"domain":[-0.3,0.64],"nice":false,"zero":false},"axis":{"values":[-0.2,-0.1,0,0.1,0.2,0.3,0.4,0.5,0.6],"title":null,"labelFont":"Liberation Serif","labelFontSize":19,"labelExpr":"round(datum.value*10)%2==0 ? replace(replace(format(datum.value,'.1f'),'.',','),'\u2212','-') : ''","tickSize":{"condition":{"test":"round(datum.value*10)%2!=0","value":3.5},"value":6},"labelPadding":4}},
    "shape":{"field":"key","type":"nominal","legend":{"title":null,"labelFont":"Liberation Serif","labelFontSize":20,"labelExpr":"datum.value=='q'?'\ud835\udc66=0':datum.value=='r'?'\ud835\udc66=5':datum.value=='s'?'\ud835\udc66=10':datum.value=='t'?'\ud835\udc66=15':''"}},
    "fill":{"field":"key","type":"nominal","scale":{"range":["#111111","#27399a","#f03232","#6b6b27","transparent","transparent","transparent","transparent","transparent","transparent","transparent","transparent","transparent","transparent","transparent","transparent","transparent","transparent","transparent","transparent"]},"legend":{"title":null,"labelFont":"Liberation Serif","labelFontSize":20,"labelExpr":"datum.value=='q'?'\ud835\udc66=0':datum.value=='r'?'\ud835\udc66=5':datum.value=='s'?'\ud835\udc66=10':datum.value=='t'?'\ud835\udc66=15':''"}},
    "stroke":{"field":"key","type":"nominal","legend":{"title":null,"labelFont":"Liberation Serif","labelFontSize":20,"labelExpr":"datum.value=='q'?'\ud835\udc66=0':datum.value=='r'?'\ud835\udc66=5':datum.value=='s'?'\ud835\udc66=10':datum.value=='t'?'\ud835\udc66=15':''"}}
   }},
  {"data":{"name":"lines_sc"},"mark":{"type":"rule","color":"black","strokeWidth":2},"encoding":{"y":{"field":"h","type":"quantitative"}}},
  {"data":{"values":[{}]},"mark":{"type":"rect","fill":"black"},"encoding":{"x":{"datum":-0.598},"x2":{"datum":0.592},"y":{"datum":0.528},"y2":{"datum":0.26}}},
  {"data":{"values":[{}]},"mark":{"type":"rect","fill":"white","stroke":"#999999","strokeWidth":1},"encoding":{"x":{"datum":-0.627},"x2":{"datum":0.562},"y":{"datum":0.549},"y2":{"datum":0.281}}},
  {"data":{"values":[{}]},"mark":{"type":"text","text":"Simple cubic lattice","font":"Liberation Sans","fontSize":17,"align":"center","baseline":"middle","color":"black"},"encoding":{"x":{"datum":-0.015},"y":{"datum":0.584}}},
  {"data":{"name":"ann"},"mark":{"type":"rect","fill":"white","stroke":"#8a8a8a","strokeWidth":1},"encoding":{"x":{"field":"bx","type":"quantitative"},"x2":{"field":"bx2"},"y":{"field":"by","type":"quantitative"},"y2":{"field":"by2"}}},
  {"data":{"name":"ann"},"mark":{"type":"text","font":"Liberation Serif","fontSize":17,"align":"center","baseline":"middle","color":"black"},"encoding":{"x":{"field":"tx","type":"quantitative"},"y":{"field":"ty","type":"quantitative"},"text":{"field":"t"}}},
  {"data":{"name":"ann"},"mark":{"type":"rule","color":"#333333","strokeWidth":0.8},"encoding":{"x":{"field":"ax","type":"quantitative"},"y":{"field":"ay","type":"quantitative"},"x2":{"field":"ex"},"y2":{"field":"ey"}}},
  {"data":{"name":"ann"},"mark":{"type":"point","shape":"M0,-1L0.45,1L-0.45,1Z","filled":true,"color":"#222222","size":50,"angle":218,"opacity":1},"encoding":{"x":{"field":"ex","type":"quantitative"},"y":{"field":"ey","type":"quantitative"}}},
  {"data":{"values":[{}]},"mark":{"type":"text","text":"H","font":"Liberation Serif","fontSize":33,"fontWeight":"bold","fontStyle":"italic","angle":270,"align":"left","baseline":"alphabetic","color":"black"},"encoding":{"x":{"datum":-1.222},"y":{"datum":-0.117}}},
  {"data":{"values":[{}]},"mark":{"type":"text","text":"d","font":"Liberation Serif","fontSize":18,"angle":270,"align":"left","baseline":"alphabetic","color":"black"},"encoding":{"x":{"datum":-1.205},"y":{"datum":-0.048}}},
  {"data":{"values":[{}]},"mark":{"type":"text","text":"/(m c)","font":"Liberation Sans","fontSize":20,"fontWeight":"bold","angle":270,"align":"left","baseline":"alphabetic","color":"black"},"encoding":{"x":{"datum":-1.218},"y":{"datum":-0.024}}},
  {"data":{"values":[{}]},"mark":{"type":"text","text":"x/|x","font":"Liberation Serif","fontSize":21,"fontStyle":"italic","align":"right","baseline":"alphabetic","color":"black"},"encoding":{"x":{"datum":-0.041},"y":{"datum":-0.466}}},
  {"data":{"values":[{}]},"mark":{"type":"text","text":"max|","font":"Liberation Serif","fontSize":21,"align":"left","baseline":"alphabetic","color":"black"},"encoding":{"x":{"datum":-0.041},"y":{"datum":-0.477}}}
 ]},
{"width":477.7,"height":351,
 "layer":[
  {"data":{"name":"bcc"},"transform":[{"fold":["a","b","c","d","e","f","g","h","i","j","k","l","m","n","o","p","q","r","s","t"],"as":["key","val"]}],
   "mark":{"type":"point","opacity":1,"strokeWidth":1,"size":90},
   "encoding":{
    "x":{"field":"x","type":"quantitative","scale":{"domain":[-1.021,1.0085],"nice":false,"zero":false},"axis":{"values":[-1,-0.75,-0.5,-0.25,0,0.25,0.5,0.75,1],"title":null,"labelFont":"Liberation Serif","labelFontSize":19,"labelExpr":"round(datum.value*4)%2==0 ? replace(replace(format(datum.value,'.1f'),'.',','),'\u2212','-') : ''","tickSize":{"condition":{"test":"round(datum.value*4)%2!=0","value":3.5},"value":6},"labelPadding":3}},
    "y":{"field":"val","type":"quantitative","scale":{"domain":[-0.3,0.64],"nice":false,"zero":false},"axis":{"values":[-0.2,-0.1,0,0.1,0.2,0.3,0.4,0.5,0.6],"title":null,"labelFont":"Liberation Serif","labelFontSize":19,"labelExpr":"round(datum.value*10)%2==0 ? replace(replace(format(datum.value,'.1f'),'.',','),'\u2212','-') : ''","tickSize":{"condition":{"test":"round(datum.value*10)%2!=0","value":3.5},"value":6},"labelPadding":4}},
    "shape":{"field":"key","type":"nominal","legend":{"title":null,"labelFont":"Liberation Serif","labelFontSize":20,"labelExpr":"datum.value=='q'?'\ud835\udc66=0':datum.value=='r'?'\ud835\udc66=5':datum.value=='s'?'\ud835\udc66=10':datum.value=='t'?'\ud835\udc66=15':''"}},
    "fill":{"field":"key","type":"nominal","scale":{"range":["#111111","#27399a","#f03232","#6b6b27","transparent","transparent","transparent","transparent","transparent","transparent","transparent","transparent","transparent","transparent","transparent","transparent","transparent","transparent","transparent","transparent"]},"legend":{"title":null,"labelFont":"Liberation Serif","labelFontSize":20,"labelExpr":"datum.value=='q'?'\ud835\udc66=0':datum.value=='r'?'\ud835\udc66=5':datum.value=='s'?'\ud835\udc66=10':datum.value=='t'?'\ud835\udc66=15':''"}},
    "stroke":{"field":"key","type":"nominal","legend":{"title":null,"labelFont":"Liberation Serif","labelFontSize":20,"labelExpr":"datum.value=='q'?'\ud835\udc66=0':datum.value=='r'?'\ud835\udc66=5':datum.value=='s'?'\ud835\udc66=10':datum.value=='t'?'\ud835\udc66=15':''"}}
   }},
  {"data":{"name":"lines_bcc"},"mark":{"type":"rule","color":"black","strokeWidth":2},"encoding":{"y":{"field":"h","type":"quantitative"}}},
  {"data":{"values":[{}]},"mark":{"type":"rect","fill":"black"},"encoding":{"x":{"datum":-0.598},"x2":{"datum":0.592},"y":{"datum":0.528},"y2":{"datum":0.26}}},
  {"data":{"values":[{}]},"mark":{"type":"rect","fill":"white","stroke":"#999999","strokeWidth":1},"encoding":{"x":{"datum":-0.627},"x2":{"datum":0.562},"y":{"datum":0.549},"y2":{"datum":0.281}}},
  {"data":{"values":[{}]},"mark":{"type":"text","text":"Body-centered cubic lattice","font":"Liberation Sans","fontSize":17,"align":"center","baseline":"middle","color":"black"},"encoding":{"x":{"datum":-0.015},"y":{"datum":0.584}}},
  {"data":{"name":"ann"},"mark":{"type":"rect","fill":"white","stroke":"#8a8a8a","strokeWidth":1},"encoding":{"x":{"field":"bx","type":"quantitative"},"x2":{"field":"bx2"},"y":{"field":"by","type":"quantitative"},"y2":{"field":"by2"}}},
  {"data":{"name":"ann"},"mark":{"type":"text","font":"Liberation Serif","fontSize":17,"align":"center","baseline":"middle","color":"black"},"encoding":{"x":{"field":"tx","type":"quantitative"},"y":{"field":"ty","type":"quantitative"},"text":{"field":"t"}}},
  {"data":{"name":"ann"},"mark":{"type":"rule","color":"#333333","strokeWidth":0.8},"encoding":{"x":{"field":"ax","type":"quantitative"},"y":{"field":"ay","type":"quantitative"},"x2":{"field":"ex"},"y2":{"field":"ey"}}},
  {"data":{"name":"ann"},"mark":{"type":"point","shape":"M0,-1L0.45,1L-0.45,1Z","filled":true,"color":"#222222","size":50,"angle":218,"opacity":1},"encoding":{"x":{"field":"ex","type":"quantitative"},"y":{"field":"ey","type":"quantitative"}}},
  {"data":{"values":[{}]},"mark":{"type":"text","text":"H","font":"Liberation Serif","fontSize":33,"fontWeight":"bold","fontStyle":"italic","angle":270,"align":"left","baseline":"alphabetic","color":"black"},"encoding":{"x":{"datum":-1.222},"y":{"datum":-0.117}}},
  {"data":{"values":[{}]},"mark":{"type":"text","text":"d","font":"Liberation Serif","fontSize":18,"angle":270,"align":"left","baseline":"alphabetic","color":"black"},"encoding":{"x":{"datum":-1.205},"y":{"datum":-0.048}}},
  {"data":{"values":[{}]},"mark":{"type":"text","text":"/(m c)","font":"Liberation Sans","fontSize":20,"fontWeight":"bold","angle":270,"align":"left","baseline":"alphabetic","color":"black"},"encoding":{"x":{"datum":-1.218},"y":{"datum":-0.024}}},
  {"data":{"values":[{}]},"mark":{"type":"text","text":"x/|x","font":"Liberation Serif","fontSize":21,"fontStyle":"italic","align":"right","baseline":"alphabetic","color":"black"},"encoding":{"x":{"datum":-0.041},"y":{"datum":-0.466}}},
  {"data":{"values":[{}]},"mark":{"type":"text","text":"max|","font":"Liberation Serif","fontSize":21,"align":"left","baseline":"alphabetic","color":"black"},"encoding":{"x":{"datum":-0.041},"y":{"datum":-0.477}}}
 ]},
{"width":477.7,"height":351,
 "layer":[
  {"data":{"name":"hcp"},"transform":[{"fold":["a","b","c","d","e","f","g","h","i","j","k","l","m","n","o","p","q","r","s","t"],"as":["key","val"]}],
   "mark":{"type":"point","opacity":1,"strokeWidth":1,"size":90},
   "encoding":{
    "x":{"field":"x","type":"quantitative","scale":{"domain":[-1.021,1.0085],"nice":false,"zero":false},"axis":{"values":[-1,-0.75,-0.5,-0.25,0,0.25,0.5,0.75,1],"title":null,"labelFont":"Liberation Serif","labelFontSize":19,"labelExpr":"round(datum.value*4)%2==0 ? replace(replace(format(datum.value,'.1f'),'.',','),'\u2212','-') : ''","tickSize":{"condition":{"test":"round(datum.value*4)%2!=0","value":3.5},"value":6},"labelPadding":3}},
    "y":{"field":"val","type":"quantitative","scale":{"domain":[-0.3,0.64],"nice":false,"zero":false},"axis":{"values":[-0.2,-0.1,0,0.1,0.2,0.3,0.4,0.5,0.6],"title":null,"labelFont":"Liberation Serif","labelFontSize":19,"labelExpr":"round(datum.value*10)%2==0 ? replace(replace(format(datum.value,'.1f'),'.',','),'\u2212','-') : ''","tickSize":{"condition":{"test":"round(datum.value*10)%2!=0","value":3.5},"value":6},"labelPadding":4}},
    "shape":{"field":"key","type":"nominal","legend":{"title":null,"labelFont":"Liberation Serif","labelFontSize":20,"labelExpr":"datum.value=='q'?'\ud835\udc66=0':datum.value=='r'?'\ud835\udc66=5.2':datum.value=='s'?'\ud835\udc66=10.4':datum.value=='t'?'\ud835\udc66=15.6':''"}},
    "fill":{"field":"key","type":"nominal","scale":{"range":["#111111","#27399a","#f03232","#6b6b27","transparent","transparent","transparent","transparent","transparent","transparent","transparent","transparent","transparent","transparent","transparent","transparent","transparent","transparent","transparent","transparent"]},"legend":{"title":null,"labelFont":"Liberation Serif","labelFontSize":20,"labelExpr":"datum.value=='q'?'\ud835\udc66=0':datum.value=='r'?'\ud835\udc66=5.2':datum.value=='s'?'\ud835\udc66=10.4':datum.value=='t'?'\ud835\udc66=15.6':''"}},
    "stroke":{"field":"key","type":"nominal","legend":{"title":null,"labelFont":"Liberation Serif","labelFontSize":20,"labelExpr":"datum.value=='q'?'\ud835\udc66=0':datum.value=='r'?'\ud835\udc66=5.2':datum.value=='s'?'\ud835\udc66=10.4':datum.value=='t'?'\ud835\udc66=15.6':''"}}
   }},
  {"data":{"name":"lines_hcp"},"mark":{"type":"rule","color":"black","strokeWidth":2},"encoding":{"y":{"field":"h","type":"quantitative"}}},
  {"data":{"values":[{}]},"mark":{"type":"rect","fill":"black"},"encoding":{"x":{"datum":-0.62},"x2":{"datum":0.647},"y":{"datum":0.528},"y2":{"datum":0.26}}},
  {"data":{"values":[{}]},"mark":{"type":"rect","fill":"white","stroke":"#999999","strokeWidth":1},"encoding":{"x":{"datum":-0.648},"x2":{"datum":0.63},"y":{"datum":0.549},"y2":{"datum":0.281}}},
  {"data":{"values":[{}]},"mark":{"type":"text","text":"Hexagonal close-packed lattice","font":"Liberation Sans","fontSize":17,"align":"center","baseline":"middle","color":"black"},"encoding":{"x":{"datum":-0.034},"y":{"datum":0.584}}},
  {"data":{"name":"ann_hcp"},"mark":{"type":"rect","fill":"white","stroke":"#8a8a8a","strokeWidth":1},"encoding":{"x":{"field":"bx","type":"quantitative"},"x2":{"field":"bx2"},"y":{"field":"by","type":"quantitative"},"y2":{"field":"by2"}}},
  {"data":{"name":"ann_hcp"},"mark":{"type":"text","font":"Liberation Serif","fontSize":17,"align":"center","baseline":"middle","color":"black"},"encoding":{"x":{"field":"tx","type":"quantitative"},"y":{"field":"ty","type":"quantitative"},"text":{"field":"t"}}},
  {"data":{"name":"ann_hcp"},"mark":{"type":"rule","color":"#333333","strokeWidth":0.8},"encoding":{"x":{"field":"ax","type":"quantitative"},"y":{"field":"ay","type":"quantitative"},"x2":{"field":"ex"},"y2":{"field":"ey"}}},
  {"data":{"name":"ann_hcp"},"mark":{"type":"point","shape":"M0,-1L0.45,1L-0.45,1Z","filled":true,"color":"#222222","size":50,"angle":218,"opacity":1},"encoding":{"x":{"field":"ex","type":"quantitative"},"y":{"field":"ey","type":"quantitative"}}},
  {"data":{"values":[{}]},"mark":{"type":"text","text":"H","font":"Liberation Serif","fontSize":33,"fontWeight":"bold","fontStyle":"italic","angle":270,"align":"left","baseline":"alphabetic","color":"black"},"encoding":{"x":{"datum":-1.222},"y":{"datum":-0.072}}},
  {"data":{"values":[{}]},"mark":{"type":"text","text":"d","font":"Liberation Serif","fontSize":18,"angle":270,"align":"left","baseline":"alphabetic","color":"black"},"encoding":{"x":{"datum":-1.205},"y":{"datum":-0.003}}},
  {"data":{"values":[{}]},"mark":{"type":"text","text":"/(m c)","font":"Liberation Sans","fontSize":20,"fontWeight":"bold","angle":270,"align":"left","baseline":"alphabetic","color":"black"},"encoding":{"x":{"datum":-1.218},"y":{"datum":0.021}}},
  {"data":{"values":[{}]},"mark":{"type":"text","text":"x/|x","font":"Liberation Serif","fontSize":21,"fontStyle":"italic","align":"right","baseline":"alphabetic","color":"black"},"encoding":{"x":{"datum":-0.041},"y":{"datum":-0.466}}},
  {"data":{"values":[{}]},"mark":{"type":"text","text":"max|","font":"Liberation Serif","fontSize":21,"align":"left","baseline":"alphabetic","color":"black"},"encoding":{"x":{"datum":-0.041},"y":{"datum":-0.477}}}
 ]}
]
}
